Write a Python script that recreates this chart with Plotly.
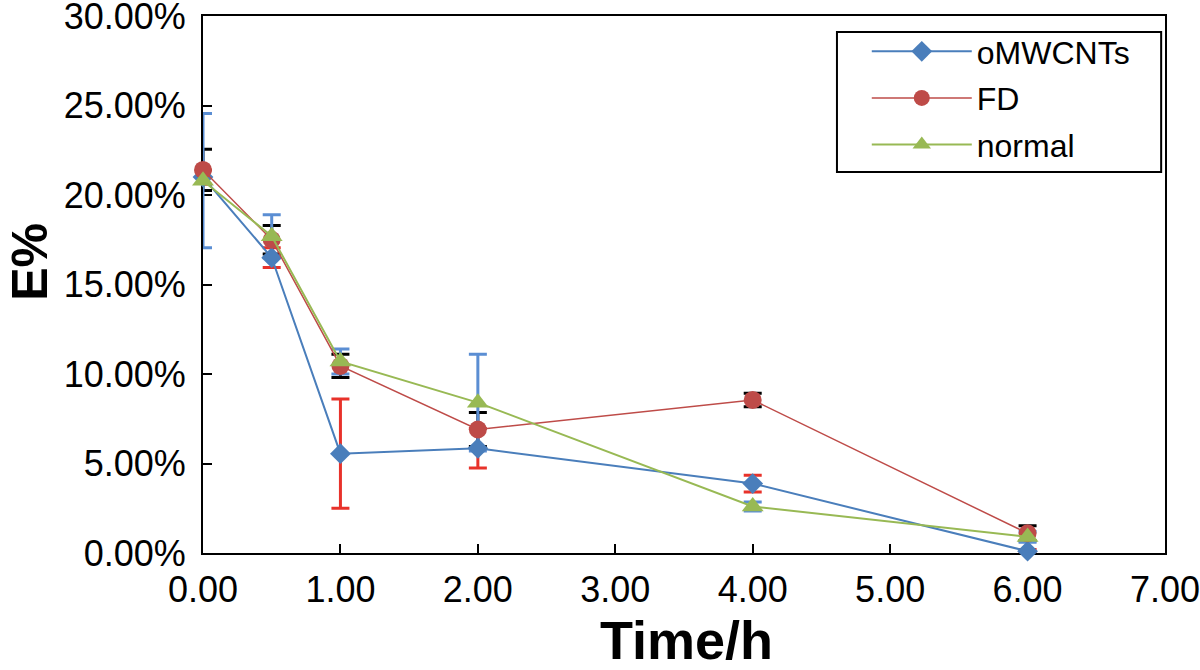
import plotly.graph_objects as go

# Data (percent values)
time_h = [0.0, 0.5, 1.0, 2.0, 4.0, 6.0]
series_names = ["oMWCNTs", "FD", "normal"]
omwcnts = [21.0, 16.5, 5.55, 5.85, 3.88, 0.1]
omwcnts_err = [0.4, 0.55, 3.05, 1.1, 0.47, 0.1]
fd = [21.4, 17.5, 10.45, 6.9, 8.55, 1.1]
fd_err = [1.15, 0.8, 0.65, 0.95, 0.38, 0.42]
normal = [20.8, 17.7, 10.7, 8.4, 2.6, 0.9]
normal_err = [3.75, 1.2, 0.7, 2.7, 0.25, 0.3]

y_ticks = [0, 5, 10, 15, 20, 25, 30]
y_ticktext = [f"{v:.2f}%" for v in y_ticks]
x_ticks = [0, 1, 2, 3, 4, 5, 6, 7]
x_ticktext = [f"{v:.2f}" for v in x_ticks]
x_title = "Time/h"
y_title = "E%"

FONT = "Liberation Sans, Arial, Helvetica, sans-serif"

line_colors = ["#4A7EBB", "#BE4B48", "#98B954"]
err_colors = ["#E8322A", "#000000", "#5B8ED3"]
symbols = ["diamond", "circle", "triangle-up"]
sizes = [16, 18, 19]
widths = [2, 1.5, 2]
values = [omwcnts, fd, normal]
errors = [omwcnts_err, fd_err, normal_err]

fig = go.Figure()

# error bars first (underneath markers)
for vals, errs, ec in zip(values, errors, err_colors):
    fig.add_trace(go.Scatter(
        x=time_h, y=vals, mode="markers",
        marker=dict(size=1, opacity=0),
        error_y=dict(type="data", array=errs, visible=True,
                     color=ec, thickness=3, width=9),
        showlegend=False, hoverinfo="skip", cliponaxis=False,
    ))

for name, vals, lc, sym, sz, lw in zip(series_names, values, line_colors, symbols, sizes, widths):
    fig.add_trace(go.Scatter(
        x=time_h, y=vals, mode="lines+markers", name=name, legendgroup=name,
        line=dict(color=lc, width=lw),
        marker=dict(symbol=sym, size=sz, color=lc, line=dict(width=0)),
        cliponaxis=False,
    ))

# legend frame
fig.add_shape(type="rect", xref="paper", yref="paper",
              x0=0.659, x1=0.996, y0=0.7095, y1=0.970,
              line=dict(color="black", width=2), fillcolor="white", layer="above")

# axis titles as annotations for exact placement
fig.add_annotation(text=f"<b>{y_title}</b>", xref="paper", yref="paper",
                   x=-0.180, y=0.542, xanchor="center", yanchor="middle",
                   textangle=-90, showarrow=False,
                   font=dict(family=FONT, size=50, color="black"))
fig.add_annotation(text=f"<b>{x_title}</b>", xref="paper", yref="paper",
                   x=0.503, y=-0.162, xanchor="center", yanchor="middle",
                   showarrow=False,
                   font=dict(family=FONT, size=54, color="black"))

fig.update_layout(
    width=1200, height=670,
    margin=dict(l=203, r=35, t=16, b=117, autoexpand=False),
    paper_bgcolor="white", plot_bgcolor="white",
    font=dict(family=FONT, color="black", size=30),
    showlegend=True,
    legend=dict(
        x=0.690, y=0.985, xanchor="left", yanchor="top",
        borderwidth=0, bgcolor="rgba(0,0,0,0)",
        font=dict(family=FONT, size=32, color="black"),
        itemwidth=100, tracegroupgap=2,
    ),
)

fig.update_xaxes(
    range=[0, 7], tickvals=x_ticks, ticktext=x_ticktext, automargin=False,
    showgrid=False, zeroline=False, layer="below traces",
    showline=True, linecolor="black", linewidth=2, mirror=True,
    ticks="inside", ticklen=9, tickwidth=2, tickcolor="black",
    tickfont=dict(family=FONT, size=36, color="black"),
    ticklabelstandoff=4, ticklabeloverflow="allow",
)
fig.update_yaxes(
    range=[0, 30], tickvals=y_ticks, ticktext=y_ticktext, automargin=False,
    showgrid=False, zeroline=False, layer="below traces",
    showline=True, linecolor="black", linewidth=2, mirror=True,
    ticks="inside", ticklen=9, tickwidth=2, tickcolor="black",
    tickfont=dict(family=FONT, size=36, color="black"),
    ticklabelstandoff=8, ticklabeloverflow="allow",
)

fig.write_html("out.html", config={"displayModeBar": False},
               post_script="document.body.style.margin='0';")
